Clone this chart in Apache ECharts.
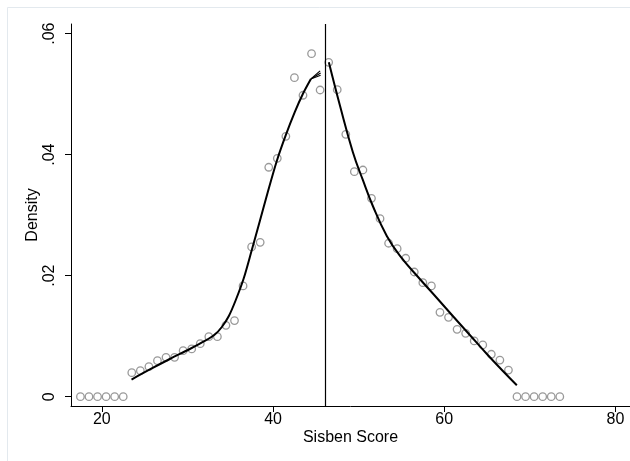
<!DOCTYPE html>
<html>
<head>
<meta charset="utf-8">
<script src="https://cdn.jsdelivr.net/npm/echarts@6/dist/echarts.min.js"></script>
<style>
html,body{margin:0;padding:0;background:#fff;}
#c{width:630px;height:461px;}
</style>
</head>
<body>
<div id="c"></div>
<script>
// Binned density points (bin centres and densities)
var binX = [17.5,18.5,19.5,20.5,21.5,22.5,23.5,24.5,25.5,26.5,27.5,28.5,29.5,30.5,31.5,32.5,33.5,34.5,35.5,36.5,37.5,38.5,39.5,40.5,41.5,42.5,43.5,44.5,45.5,
            46.5,47.5,48.5,49.5,50.5,51.5,52.5,53.5,54.5,55.5,56.5,57.5,58.5,59.5,60.5,61.5,62.5,63.5,64.5,65.5,66.5,67.5,68.5,69.5,70.5,71.5,72.5,73.5];
var binY = [0,0,0,0,0,0,0.00397,0.00430,0.00496,0.00595,0.00650,0.00650,0.00760,0.00790,0.00876,0.00992,0.00992,0.01180,0.01258,0.01830,0.02475,0.02552,0.03792,0.03940,0.04304,0.05273,0.04982,0.05669,0.05069,
            0.05527,0.05074,0.04337,0.03719,0.03747,0.03279,0.02942,0.02536,0.02446,0.02288,0.02061,0.01884,0.01830,0.01395,0.01312,0.01114,0.01048,0.00921,0.00855,0.00701,0.00605,0.00440,0,0,0,0,0,0];

// Left-of-cutoff fitted density
var leftFitX = [23.47,25.61,27.94,30.28,32.03,33.20,34.02,34.84,35.65,36.59,37.52,38.46,39.39,40.44,41.50,42.55,43.48,44.42];
var leftFitY = [0.00284,0.00450,0.00623,0.00788,0.00921,0.01028,0.01152,0.01334,0.01598,0.01962,0.02425,0.02904,0.03383,0.03896,0.04326,0.04706,0.05003,0.05251];
// End of the left fits (slightly diverging)
var fanEndX = [45.50,45.56,45.56];
var fanEndY = [0.05385,0.05350,0.05312];

// Right-of-cutoff fitted density
var rightFitX = [46.52,47.80,49.32,50.49,51.66,53.29,54.81,57.15,59.14,61.00,62.99,64.98,66.85,68.48];
var rightFitY = [0.05527,0.04821,0.04045,0.03582,0.03152,0.02656,0.02330,0.01945,0.01631,0.01334,0.01020,0.00706,0.00425,0.00190];

var cutoff = 46.05;
var xTicks = [20,40,60,80];
var yTicks = [0,0.02,0.04,0.06];
var yTickLabels = ['0','.02','.04','.06'];

function pairs(xs, ys){ var o=[]; for(var i=0;i<xs.length;i++) o.push([xs[i], ys[i]]); return o; }

var font = 'Liberation Sans, Arial, sans-serif';
var series = [];
series.push({
  type:'scatter', data: pairs(binX, binY), symbol:'circle', symbolSize:7.5, z:2,
  itemStyle:{color:'rgba(0,0,0,0)', borderColor:'#808080', borderWidth:1.3},
  silent:true
});
series.push({
  type:'line', data: pairs(leftFitX, leftFitY), showSymbol:false, smooth:0.3, z:3,
  lineStyle:{color:'#000', width:2}, silent:true
});
var lastX = leftFitX[leftFitX.length-1], lastY = leftFitY[leftFitY.length-1];
for (var f=0; f<fanEndX.length; f++){
  series.push({
    type:'line', data:[[lastX, lastY],[fanEndX[f], fanEndY[f]]],
    showSymbol:false, smooth:false, z:3, lineStyle:{color:'#000', width:1.1}, silent:true
  });
}
series.push({
  type:'line', data: pairs(rightFitX, rightFitY), showSymbol:false, smooth:0.45, z:3,
  lineStyle:{color:'#000', width:2}, silent:true,
  markLine:{symbol:['none','none'], silent:true, label:{show:false},
    lineStyle:{color:'#000', width:1.2, type:'solid'},
    data:[{xAxis: cutoff}]}
});

var chart = echarts.init(document.getElementById('c'), null, {renderer:'canvas'});
chart.setOption({
  animation:false,
  backgroundColor:'#fff',
  graphic:[{type:'rect', shape:{x:7.5,y:7.5,width:700,height:600}, style:{fill:'none', stroke:'#e3e9ee', lineWidth:1}, z:-1}],
  grid:{left:71, top:24, right:0, bottom:55, containLabel:false},
  xAxis:{
    type:'value', min:16.4, max:81.7,
    name:'Sisben Score', nameLocation:'middle', nameGap:24, nameMoveOverlap:false,
    nameTextStyle:{color:'#000', fontSize:16, fontFamily:font},
    axisLine:{show:true, onZero:false, lineStyle:{color:'#000', width:1}},
    axisTick:{show:true, length:6, customValues:xTicks, lineStyle:{color:'#000'}},
    axisLabel:{customValues:xTicks, color:'#000', fontSize:16, fontFamily:font, margin:6},
    splitLine:{show:false}
  },
  yAxis:{
    type:'value', min:-0.00154, max:0.0616,
    name:'Density', nameLocation:'middle', nameGap:30, nameRotate:90, nameMoveOverlap:false,
    nameTextStyle:{color:'#000', fontSize:16, fontFamily:font},
    axisLine:{show:true, onZero:false, lineStyle:{color:'#000', width:1}},
    axisTick:{show:true, length:6, customValues:yTicks, lineStyle:{color:'#000'}},
    axisLabel:{customValues:yTicks, rotate:90, color:'#000', fontSize:16, fontFamily:font, margin:13,
      formatter:function(v){ for(var i=0;i<yTicks.length;i++){ if(Math.abs(v-yTicks[i])<1e-9) return yTickLabels[i]; } return ''; }},
    splitLine:{show:false}
  },
  series: series
});
</script>
</body>
</html>
